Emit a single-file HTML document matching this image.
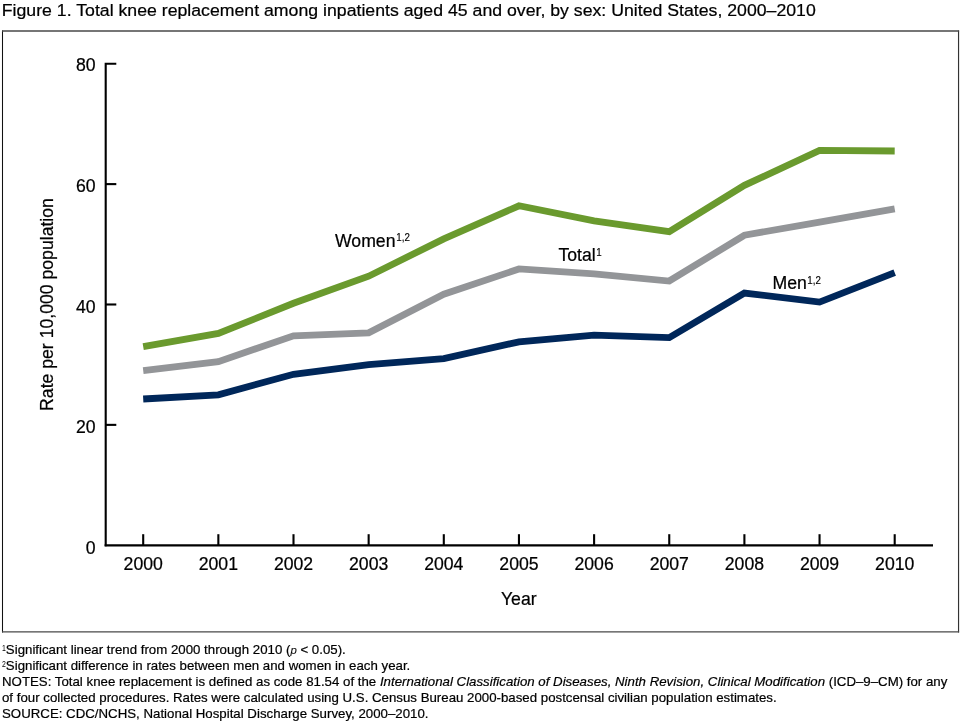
<!DOCTYPE html>
<html lang="en">
<head>
<meta charset="utf-8">
<title>Figure 1. Total knee replacement among inpatients aged 45 and over, by sex: United States, 2000–2010</title>
<style>
html,body{margin:0;padding:0;background:#fff;}
body{width:960px;height:723px;overflow:hidden;font-family:"Liberation Sans",Arial,Helvetica,sans-serif;color:#000;}
svg{display:block;}
svg text{font-family:"Liberation Sans",Arial,Helvetica,sans-serif;fill:#000;}
.big{font-size:17px;stroke:#000;stroke-width:0.22px;}
.sup{font-size:10.4px;stroke:#000;stroke-width:0.15px;}
.note{font-size:12.75px;stroke:#000;stroke-width:0.2px;}
.fsup{font-size:8.2px;}
.rot,.ax{font-size:17.65px;}
.i{font-style:italic;}
.ps{font-size:11px;stroke-width:0.05px;}
</style>
</head>
<body>
<svg width="960" height="723" viewBox="0 0 960 723">
<rect x="0" y="0" width="960" height="723" fill="#fff"/>
<text class="big" transform="translate(1.80 15.90) scale(1.0412235294117647 1)">Figure 1. Total knee replacement among inpatients aged 45 and over, by sex: United States, 2000–2010</text>
<path d="M2.5 30.4V632.4" stroke="#111" stroke-width="1.05"/>
<path d="M958.55 30.4V632.4" stroke="#333" stroke-width="1.15"/>
<path d="M2 31H959.1" stroke="#484848" stroke-width="1.3"/>
<path d="M2 631.85H959.1" stroke="#484848" stroke-width="1.3"/>
<path d="M116.3 63.7H105.7V546.25" fill="none" stroke="#000" stroke-width="2.1" stroke-linejoin="miter"/>
<path d="M104.65 545.4H933" fill="none" stroke="#000" stroke-width="2.4"/>
<path d="M105.7 184.11H116.3" stroke="#000" stroke-width="2.1"/>
<path d="M105.7 304.49H116.3" stroke="#000" stroke-width="2.1"/>
<path d="M105.7 424.87H116.3" stroke="#000" stroke-width="2.1"/>
<path d="M143.20 545.25V534.2" stroke="#000" stroke-width="2.1"/>
<path d="M218.35 545.25V534.2" stroke="#000" stroke-width="2.1"/>
<path d="M293.50 545.25V534.2" stroke="#000" stroke-width="2.1"/>
<path d="M368.65 545.25V534.2" stroke="#000" stroke-width="2.1"/>
<path d="M443.80 545.25V534.2" stroke="#000" stroke-width="2.1"/>
<path d="M518.95 545.25V534.2" stroke="#000" stroke-width="2.1"/>
<path d="M594.10 545.25V534.2" stroke="#000" stroke-width="2.1"/>
<path d="M669.25 545.25V534.2" stroke="#000" stroke-width="2.1"/>
<path d="M744.40 545.25V534.2" stroke="#000" stroke-width="2.1"/>
<path d="M819.55 545.25V534.2" stroke="#000" stroke-width="2.1"/>
<path d="M894.70 545.25V534.2" stroke="#000" stroke-width="2.1"/>
<text class="big ax" text-anchor="end" transform="translate(95.60 71.33) scale(1.0 1)">80</text>
<text class="big ax" text-anchor="end" transform="translate(95.60 191.94) scale(1.0 1)">60</text>
<text class="big ax" text-anchor="end" transform="translate(95.60 312.54) scale(1.0 1)">40</text>
<text class="big ax" text-anchor="end" transform="translate(95.60 433.15) scale(1.0 1)">20</text>
<text class="big ax" text-anchor="end" transform="translate(95.60 553.75) scale(1.0 1)">0</text>
<text class="big ax" text-anchor="middle" transform="translate(143.20 569.90) scale(1.0 1)">2000</text>
<text class="big ax" text-anchor="middle" transform="translate(218.35 569.90) scale(1.0 1)">2001</text>
<text class="big ax" text-anchor="middle" transform="translate(293.50 569.90) scale(1.0 1)">2002</text>
<text class="big ax" text-anchor="middle" transform="translate(368.65 569.90) scale(1.0 1)">2003</text>
<text class="big ax" text-anchor="middle" transform="translate(443.80 569.90) scale(1.0 1)">2004</text>
<text class="big ax" text-anchor="middle" transform="translate(518.95 569.90) scale(1.0 1)">2005</text>
<text class="big ax" text-anchor="middle" transform="translate(594.10 569.90) scale(1.0 1)">2006</text>
<text class="big ax" text-anchor="middle" transform="translate(669.25 569.90) scale(1.0 1)">2007</text>
<text class="big ax" text-anchor="middle" transform="translate(744.40 569.90) scale(1.0 1)">2008</text>
<text class="big ax" text-anchor="middle" transform="translate(819.55 569.90) scale(1.0 1)">2009</text>
<text class="big ax" text-anchor="middle" transform="translate(894.70 569.90) scale(1.0 1)">2010</text>
<text class="big ax" text-anchor="middle" transform="translate(518.80 604.80) scale(1.0 1)">Year</text>
<text class="big rot" text-anchor="middle" transform="translate(52.60 304.50) rotate(-90) scale(1.0 1)">Rate per 10,000 population</text>
<polyline points="143.20,346.62 218.35,333.38 293.50,303.29 368.65,276.20 443.80,238.88 518.95,205.78 594.10,220.83 669.25,231.66 744.40,185.31 819.55,150.40 894.70,151.01" fill="none" stroke="#6a9a2e" stroke-width="6.8" stroke-linejoin="miter" stroke-linecap="butt"/>
<polyline points="143.20,370.70 218.35,361.67 293.50,335.79 368.65,332.78 443.80,294.26 518.95,268.98 594.10,273.79 669.25,281.02 744.40,235.27 819.55,222.03 894.70,208.79" fill="none" stroke="#939598" stroke-width="6.8" stroke-linejoin="miter" stroke-linecap="butt"/>
<polyline points="143.20,398.99 218.35,394.77 293.50,374.31 368.65,364.68 443.80,358.66 518.95,341.81 594.10,335.19 669.25,337.59 744.40,293.05 819.55,302.08 894.70,272.59" fill="none" stroke="#00275a" stroke-width="6.8" stroke-linejoin="miter" stroke-linecap="butt"/>
<text class="big ax" transform="translate(335.00 246.60) scale(1.0 1)">Women</text>
<text class="sup" transform="translate(396.30 241.40) scale(0.94 1)">1,2</text>
<text class="big ax" transform="translate(558.40 260.60) scale(1.0 1)">Total</text>
<text class="sup" transform="translate(596.20 255.90) scale(0.94 1)">1</text>
<text class="big ax" transform="translate(772.50 289.20) scale(1.0 1)">Men</text>
<text class="sup" transform="translate(807.30 283.80) scale(0.94 1)">1,2</text>
<text class="fsup" transform="translate(2.00 651.10) scale(0.85 1)">1</text>
<text class="note" transform="translate(5.85 654.40) scale(1.0412235294117647 1)">Significant linear trend from 2000 through 2010 (<tspan class="i ps">p</tspan> &lt; 0.05).</text>
<text class="fsup" transform="translate(2.00 666.80) scale(0.85 1)">2</text>
<text class="note" transform="translate(5.85 670.20) scale(1.0412235294117647 1)">Significant difference in rates between men and women in each year.</text>
<text class="note" transform="translate(2.00 686.00) scale(1.0412235294117647 1)">NOTES: Total knee replacement is defined as code 81.54 of the <tspan class="i">International Classification of Diseases, Ninth Revision, Clinical Modification</tspan> (ICD–9–CM) for any</text>
<text class="note" transform="translate(2.00 701.80) scale(1.0412235294117647 1)">of four collected procedures. Rates were calculated using U.S. Census Bureau 2000-based postcensal civilian population estimates.</text>
<text class="note" transform="translate(2.00 717.60) scale(1.0412235294117647 1)">SOURCE: CDC/NCHS, National Hospital Discharge Survey, 2000–2010.</text>
</svg>
</body>
</html>
